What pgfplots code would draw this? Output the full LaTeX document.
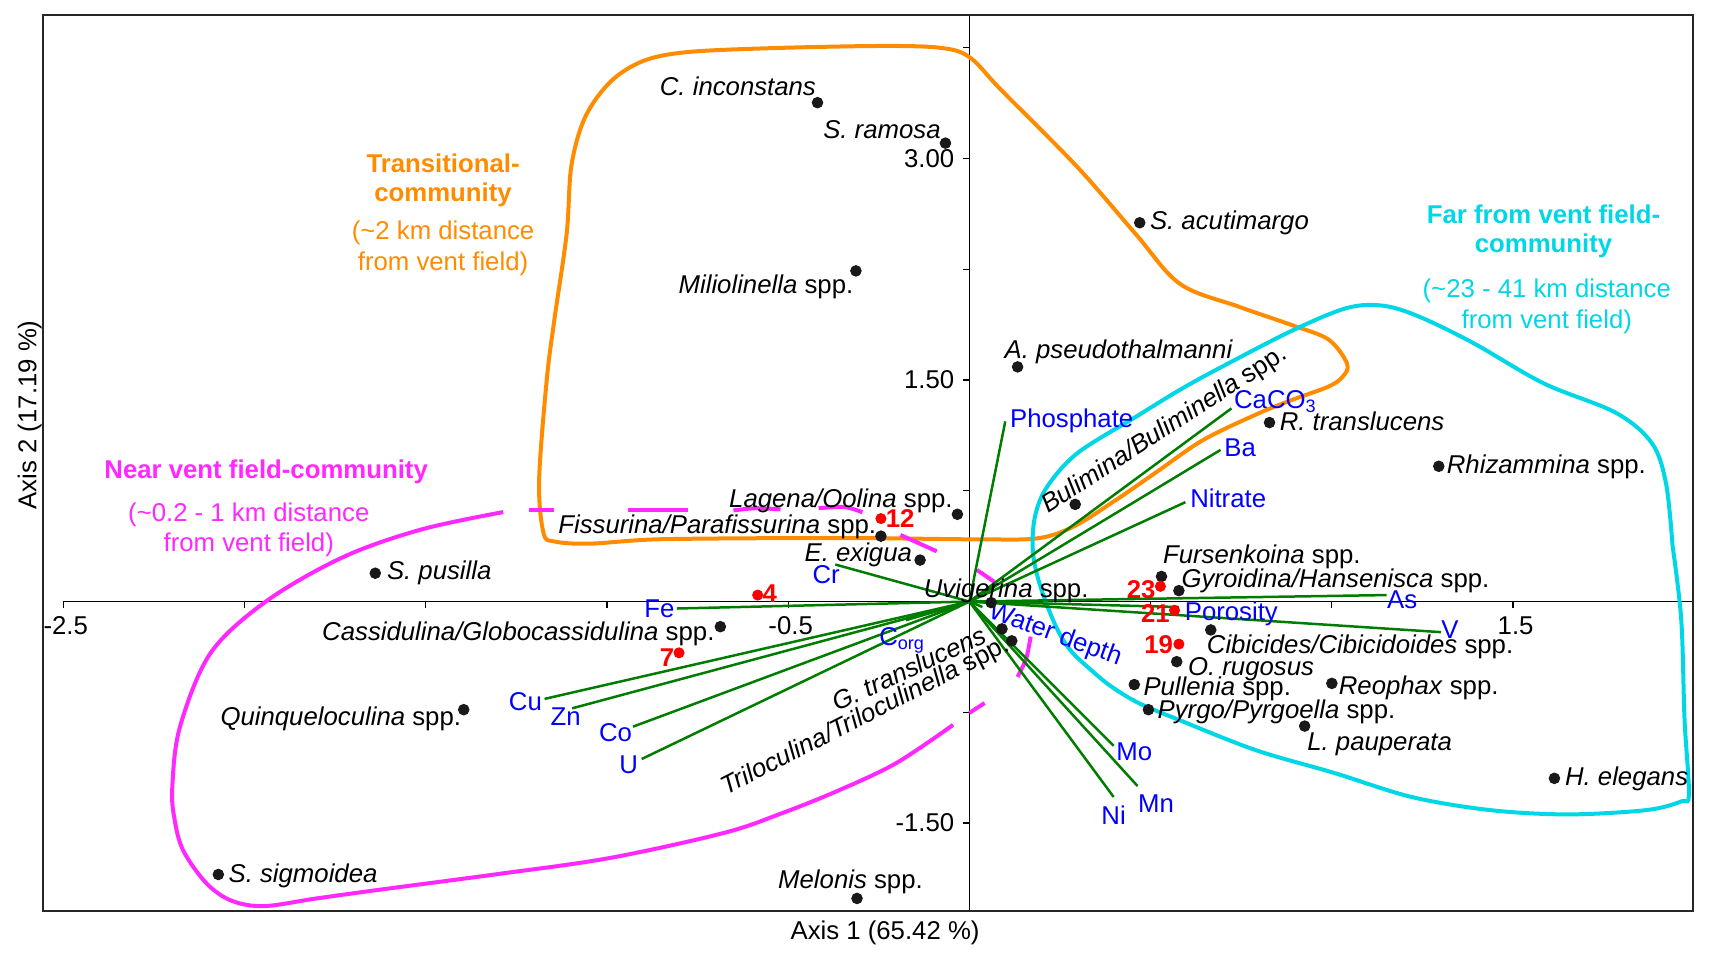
\documentclass[border=0pt]{standalone}
\usepackage{pgfplots}
\pgfplotsset{compat=1.18}
\usepackage{pgfplotstable}
\usepackage{fontspec}
\setmainfont{Liberation Sans}

\definecolor{hullorange}{RGB}{255,140,0}
\definecolor{hullcyan}{RGB}{0,215,230}
\definecolor{hullmag}{RGB}{255,40,255}
\definecolor{vecgreen}{RGB}{0,125,0}
\definecolor{envblue}{RGB}{0,0,255}
\definecolor{samplered}{RGB}{255,0,0}

% species scores
\pgfplotstableread{
x y
-0.419 3.378
-0.066 3.104
0.470 2.565
-0.313 2.239
0.133 1.589
0.292 0.658
0.828 1.212
1.295 0.916
-0.033 0.591
-0.244 0.443
-0.136 0.281
0.060 -0.007
0.530 0.170
0.578 0.074
0.666 -0.192
0.572 -0.407
0.455 -0.562
1.000 -0.554
0.494 -0.732
0.925 -0.843
1.614 -1.197
-1.639 0.192
-0.687 -0.170
-1.395 -0.732
-2.072 -1.848
-0.310 -2.010
0.090 -0.185
0.117 -0.266
}\species

% sample scores
\pgfplotstableread{
x y
-0.244 0.562
-0.584 0.044
-0.801 -0.347
0.527 0.103
0.566 -0.059
0.578 -0.288
}\samples

% environmental vectors (from origin)
\pgfplotstableread{
x y u v
0 0 0.099 1.220
0 0 0.723 1.308
0 0 0.693 1.027
0 0 0.596 0.673
0 0 1.151 0.044
0 0 1.301 -0.207
0 0 0.578 -0.037
0 0 0.036 -0.037
0 0 0.398 -0.976
0 0 0.464 -1.249
0 0 0.398 -1.323
0 0 -0.370 0.251
0 0 -0.807 -0.047
0 0 -0.175 -0.126
0 0 -1.172 -0.659
0 0 -1.096 -0.723
0 0 -0.928 -0.847
0 0 -0.904 -1.066
}\vectors

\tikzset{
  lab/.style={font=\fontsize{10.3}{12.4}\selectfont, inner sep=0pt, text height=7.4pt, text depth=0pt},
  sp/.style={lab, text=black},
  env/.style={lab, text=envblue},
  smp/.style={lab, text=samplered, font=\fontsize{10.3}{12.4}\selectfont\bfseries},
}

\begin{document}
\begin{tikzpicture}
\begin{axis}[
  scale only axis,
  width=659.7pt, height=358.3pt,
  xmin=-2.555, xmax=1.995, ymin=-2.095, ymax=3.970,
  axis lines=middle,
  axis line style={-, line width=0.5pt},
  x axis line style={shorten <=8pt},
  xtick={-2.5,-0.5,1.5}, xticklabels={-2.5,-0.5,1.5},
  minor xtick={-2,-1.5,-1,0.5,1},
  ytick={-1.5,1.5,3}, yticklabels={-1.50,1.50,3.00},
  minor ytick={-0.75,0.75,2.25,3.75},
  tick align=outside,
  major tick length=2.5pt, minor tick length=2.5pt,
  tick style={black, line width=0.5pt},
  ticklabel style={font=\fontsize{10.3}{12.4}\selectfont},
  xticklabel style={xshift=1pt},
  clip=false,
]
\coordinate (SW) at (rel axis cs:0,0);
\coordinate (NE) at (rel axis cs:1,1);
\draw[line width=0.8pt, black!85] (rel axis cs:0,0) rectangle (rel axis cs:1,1);

% transitional community
\addplot[hullorange, line width=1.6pt, smooth, tension=0.55] coordinates {
(-0.566,0.429) (-0.867,0.421) (-1.048,0.392) (-1.145,0.407) (-1.175,0.466)
(-1.187,0.820) (-1.166,1.500) (-1.145,1.907) (-1.111,2.491) (-1.098,2.950)
(-1.060,3.280) (-0.990,3.520) (-0.900,3.660) (-0.780,3.720) (-0.548,3.747)
(-0.232,3.762)
(-0.072,3.747) (0.003,3.681) (0.087,3.466) (0.298,2.942) (0.458,2.491)
(0.581,2.151) (0.744,1.996) (0.892,1.870) (0.991,1.774) (1.042,1.611)
(1.030,1.523) (0.991,1.456) (0.892,1.367) (0.795,1.271) (0.645,1.094)
(0.518,0.880) (0.404,0.687) (0.289,0.510) (0.190,0.429) (0.036,0.421)
(-0.265,0.429) (-0.566,0.429)};

% far from vent field community
\addplot[hullcyan, line width=1.6pt, smooth, tension=0.55] coordinates {
(1.940,0.377) (1.964,-0.126) (1.973,-0.798) (1.985,-1.301) (1.964,-1.353)
(1.867,-1.412) (1.651,-1.441) (1.437,-1.412) (1.220,-1.323) (1.006,-1.160)
(0.789,-1.005) (0.575,-0.798) (0.467,-0.687) (0.392,-0.576) (0.337,-0.466)
(0.277,-0.325) (0.235,-0.148) (0.193,0.126) (0.175,0.347) (0.181,0.576)
(0.214,0.776) (0.298,1.005) (0.458,1.249) (0.581,1.434) (0.696,1.589)
(0.895,1.840) (1.042,1.988) (1.142,2.003) (1.241,1.929) (1.389,1.752)
(1.584,1.478) (1.783,1.279) (1.883,1.072) (1.922,0.798) (1.940,0.377)};

% near vent field community: solid part
\addplot[hullmag, line width=1.6pt, smooth, tension=0.55] coordinates {
(-1.286,0.606) (-1.512,0.488) (-1.726,0.303) (-1.937,0.007) (-2.093,-0.347)
(-2.178,-0.850) (-2.199,-1.256) (-2.193,-1.471) (-2.169,-1.685) (-2.105,-1.907)
(-2.036,-2.025) (-1.946,-2.062) (-1.801,-2.010) (-1.627,-1.951) (-1.310,-1.848)
(-0.994,-1.737) (-0.678,-1.567) (-0.518,-1.434) (-0.361,-1.279) (-0.202,-1.094)
(-0.045,-0.835)};
% dashed part
\addplot[hullmag, line width=1.6pt] coordinates {(-1.214,0.621) (-1.145,0.621)};
\addplot[hullmag, line width=1.6pt] coordinates {(-0.943,0.621) (-0.777,0.621)};
\addplot[hullmag, line width=1.6pt, smooth] coordinates {(-0.651,0.617) (-0.590,0.632) (-0.521,0.624)};
\addplot[hullmag, line width=1.6pt, smooth] coordinates {(-0.416,0.632) (-0.345,0.640) (-0.295,0.605)};
\addplot[hullmag, line width=1.6pt] coordinates {(-0.190,0.451) (-0.090,0.340)};
\addplot[hullmag, line width=1.6pt] coordinates {(0.021,0.214) (0.069,0.133)};
\addplot[hullmag, line width=1.6pt, smooth] coordinates {(0.169,-0.237) (0.157,-0.384) (0.133,-0.510)};
\addplot[hullmag, line width=1.6pt] coordinates {(0.042,-0.687) (0.000,-0.754)};

% environmental vectors
\addplot[vecgreen, line width=1pt, -, quiver={u=\thisrow{u}, v=\thisrow{v}}] table[x=x, y=y] {\vectors};

% species and samples
\addplot[only marks, mark=*, mark size=2.1pt, black!90] table[x=x, y=y] {\species};
\addplot[only marks, mark=*, mark size=2pt, samplered] table[x=x, y=y] {\samples};

% species labels
\node[sp, anchor=east] at (axis cs:-0.422,3.489) {\textit{C. inconstans}};
\node[sp, anchor=east] at (axis cs:-0.078,3.200) {\textit{S. ramosa}};
\node[sp, anchor=west] at (axis cs:0.497,2.579) {\textit{S. acutimargo}};
\node[sp, anchor=east] at (axis cs:-0.319,2.151) {\textit{Miliolinella} spp.};
\node[sp, anchor=west] at (axis cs:0.096,1.707) {\textit{A. pseudothalmanni}};
\node[sp, anchor=south west, rotate=33] at (axis cs:0.218,0.592) {\textit{Bulimina/Buliminella} spp.};
\node[sp, anchor=west] at (axis cs:0.855,1.220) {\textit{R. translucens}};
\node[sp, anchor=west] at (axis cs:1.316,0.931) {\textit{Rhizammina} spp.};
\node[sp, anchor=east] at (axis cs:-0.045,0.702) {\textit{Lagena/Oolina} spp.};
\node[sp, anchor=east] at (axis cs:-0.256,0.525) {\textit{Fissurina/Parafissurina} spp.};
\node[sp, anchor=east] at (axis cs:-0.157,0.333) {\textit{E. exigua}};
\node[sp, anchor=west] at (axis cs:-0.127,0.089) {\textit{Uvigerina} spp.};
\node[sp, anchor=west] at (axis cs:0.533,0.318) {\textit{Fursenkoina} spp.};
\node[sp, anchor=west] at (axis cs:0.584,0.155) {\textit{Gyroidina/Hansenisca} spp.};
\node[sp, anchor=west] at (axis cs:0.654,-0.288) {\textit{Cibicides/Cibicidoides} spp.};
\node[sp, anchor=west] at (axis cs:0.602,-0.436) {\textit{O. rugosus}};
\node[sp, anchor=west] at (axis cs:0.479,-0.576) {\textit{Pullenia} spp.};
\node[sp, anchor=west] at (axis cs:1.018,-0.569) {\textit{Reophax} spp.};
\node[sp, anchor=west] at (axis cs:0.518,-0.732) {\textit{Pyrgo/Pyrgoella} spp.};
\node[sp, anchor=west] at (axis cs:0.931,-0.946) {\textit{L. pauperata}};
\node[sp, anchor=west] at (axis cs:1.642,-1.183) {\textit{H. elegans}};
\node[sp, anchor=west] at (axis cs:-1.608,0.214) {\textit{S. pusilla}};
\node[sp, anchor=east] at (axis cs:-0.702,-0.200) {\textit{Cassidulina/Globocassidulina} spp.};
\node[sp, anchor=east] at (axis cs:-1.401,-0.776) {\textit{Quinqueloculina} spp.};
\node[sp, anchor=west] at (axis cs:-2.045,-1.840) {\textit{S. sigmoidea}};
\node[sp, anchor=center] at (axis cs:-0.328,-1.877) {\textit{Melonis} spp.};
\node[sp, anchor=south east, rotate=25] at (axis cs:0.054,-0.273) {\textit{G. translucens}};
\node[sp, anchor=south east, rotate=27] at (axis cs:0.117,-0.330) {\textit{Triloculina/Triloculinella} spp.};

% sample labels
\node[smp, anchor=west] at (axis cs:-0.232,0.562) {12};
\node[smp, anchor=west] at (axis cs:-0.572,0.059) {4};
\node[smp, anchor=east] at (axis cs:-0.813,-0.377) {7};
\node[smp, anchor=east] at (axis cs:0.515,0.081) {23};
\node[smp, anchor=east] at (axis cs:0.554,-0.081) {21};
\node[smp, anchor=east] at (axis cs:0.563,-0.288) {19};

% variable labels
\node[env, anchor=west] at (axis cs:0.111,1.242) {Phosphate};
\node[env, anchor=west] at (axis cs:0.729,1.367) {CaCO\textsubscript{3}};
\node[env, anchor=west] at (axis cs:0.702,1.042) {Ba};
\node[env, anchor=west] at (axis cs:0.608,0.702) {Nitrate};
\node[env, anchor=west] at (axis cs:1.151,0.015) {As};
\node[env, anchor=west] at (axis cs:1.301,-0.185) {V};
\node[env, anchor=west] at (axis cs:0.593,-0.067) {Porosity};
\node[env, anchor=south west, rotate=-20] at (axis cs:0.048,-0.111) {Water depth};
\node[env, anchor=west] at (axis cs:0.404,-1.013) {Mo};
\node[env, anchor=west] at (axis cs:0.464,-1.367) {Mn};
\node[env, anchor=center] at (axis cs:0.398,-1.449) {Ni};
\node[env, anchor=center] at (axis cs:-0.395,0.185) {Cr};
\node[env, anchor=center] at (axis cs:-0.855,-0.044) {Fe};
\node[env, anchor=west] at (axis cs:-0.250,-0.237) {C\textsubscript{org}};
\node[env, anchor=east] at (axis cs:-1.178,-0.673) {Cu};
\node[env, anchor=center] at (axis cs:-1.114,-0.776) {Zn};
\node[env, anchor=center] at (axis cs:-0.976,-0.887) {Co};
\node[env, anchor=center] at (axis cs:-0.940,-1.101) {U};

% community titles
\node[lab, text=hullorange, font=\fontsize{10.3}{12.4}\selectfont\bfseries] at (axis cs:-1.452,2.971) {Transitional-};
\node[lab, text=hullorange, font=\fontsize{10.3}{12.4}\selectfont\bfseries] at (axis cs:-1.452,2.772) {community};
\node[lab, text=hullorange] at (axis cs:-1.452,2.513) {(\textasciitilde2 km distance};
\node[lab, text=hullorange] at (axis cs:-1.452,2.306) {from vent field)};

\node[lab, text=hullcyan, font=\fontsize{10.3}{12.4}\selectfont\bfseries] at (axis cs:1.584,2.624) {Far from vent field-};
\node[lab, text=hullcyan, font=\fontsize{10.3}{12.4}\selectfont\bfseries] at (axis cs:1.584,2.424) {community};
\node[lab, text=hullcyan] at (axis cs:1.593,2.121) {(\textasciitilde23 - 41 km distance};
\node[lab, text=hullcyan] at (axis cs:1.593,1.914) {from vent field)};

\node[lab, text=hullmag, font=\fontsize{10.3}{12.4}\selectfont\bfseries] at (axis cs:-1.940,0.894) {Near vent field-community};
\node[lab, text=hullmag] at (axis cs:-1.988,0.606) {(\textasciitilde0.2 - 1 km distance};
\node[lab, text=hullmag] at (axis cs:-1.988,0.399) {from vent field)};

% axis titles
\node[lab] at (rel axis cs:0.5104,-0.0212) {Axis 1 (65.42 \%)};
\node[lab, rotate=90] at (rel axis cs:-0.0098,0.5538) {Axis 2 (17.19 \%)};
\end{axis}
\pgfresetboundingbox
\path ([xshift=-17.3pt, yshift=-19.2pt]SW) rectangle ([xshift=7.8pt, yshift=6.1pt]NE);
\end{tikzpicture}
\end{document}
